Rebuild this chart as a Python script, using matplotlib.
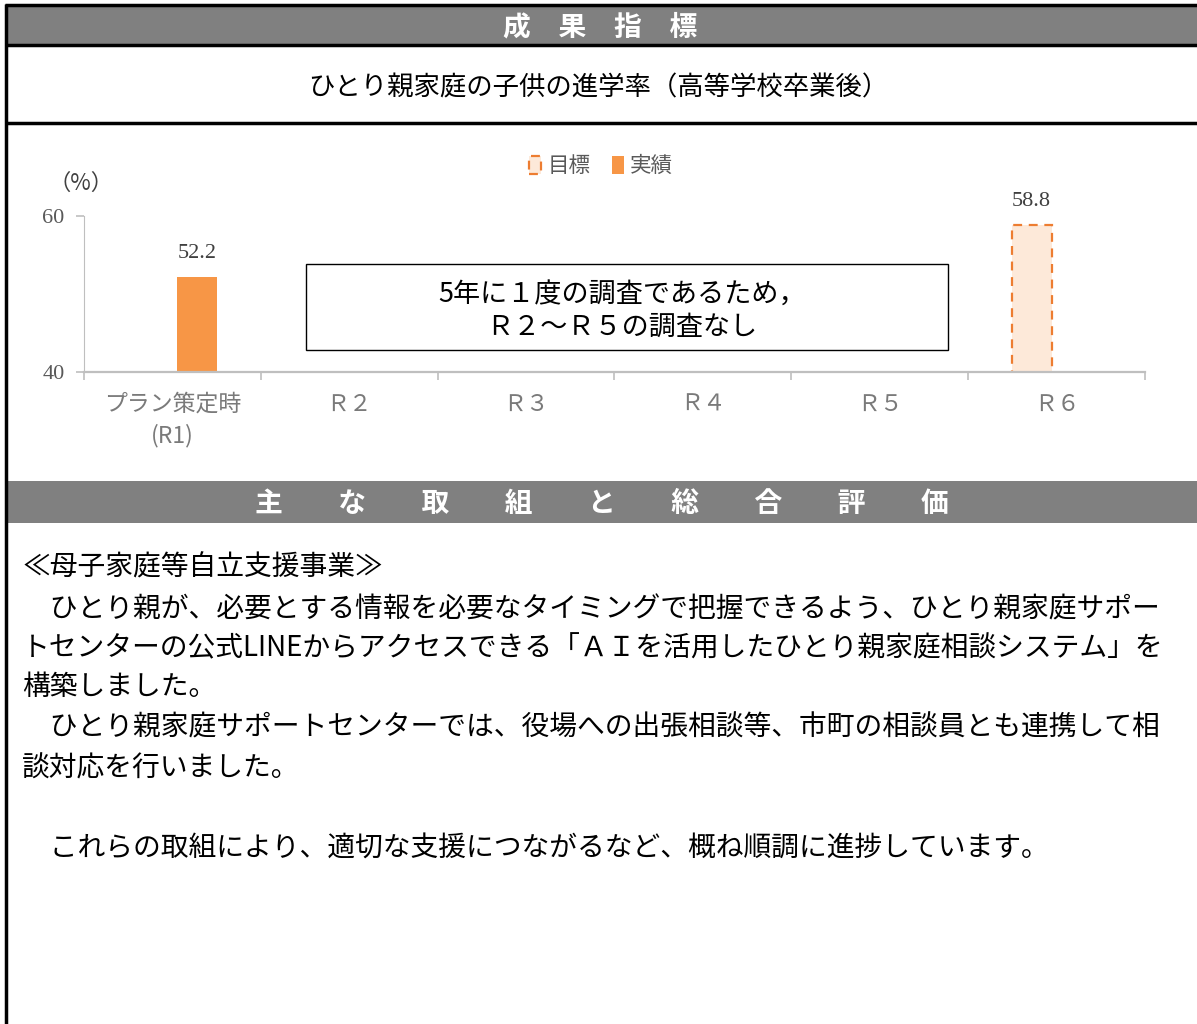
import numpy as np
import matplotlib
matplotlib.use("Agg")
import matplotlib.pyplot as plt
from matplotlib.patches import Rectangle

plt.rcParams['font.family'] = ['Noto Sans CJK JP', 'DejaVu Sans']

# data
categories = ['プラン策定時\n(R1)', 'Ｒ２', 'Ｒ３', 'Ｒ４', 'Ｒ５', 'Ｒ６']
target = [np.nan, np.nan, np.nan, np.nan, np.nan, 58.8]   # 目標
actual = [52.2, np.nan, np.nan, np.nan, np.nan, np.nan]   # 実績
series_names = ['目標', '実績']

header1 = '成　果　指　標'
header2 = '主　　な　　取　　組　　と　　総　　合　　評　　価'
chart_title = 'ひとり親家庭の子供の進学率（高等学校卒業後）'
note_lines = '5年に１度の調査であるため，\nＲ２～Ｒ５の調査なし'
body_lines = [
    '≪母子家庭等自立支援事業≫',
    '　ひとり親が、必要とする情報を必要なタイミングで把握できるよう、ひとり親家庭サポー',
    'トセンターの公式LINEからアクセスできる「ＡＩを活用したひとり親家庭相談システム」を',
    '構築しました。',
    '　ひとり親家庭サポートセンターでは、役場への出張相談等、市町の相談員とも連携して相',
    '談対応を行いました。',
    '',
    '　これらの取組により、適切な支援につながるなど、概ね順調に進捗しています。',
]

W, H = 1197, 1024
fig = plt.figure(figsize=(W / 100, H / 100), dpi=100)

# page layout in pixel coords
bg = fig.add_axes([0, 0, 1, 1])
bg.set_xlim(0, W)
bg.set_ylim(H, 0)
bg.axis('off')

gray = '#808080'
bg.add_patch(Rectangle((6, 5), W, 40, facecolor=gray, edgecolor='none'))
bg.add_patch(Rectangle((7, 481), W, 42, facecolor=gray, edgecolor='none'))
for y in (5, 45, 123):
    bg.plot([5, W], [y, y], color='black', lw=2.5, solid_capstyle='butt')
bg.plot([6, 6], [4, H], color='black', lw=2.5, solid_capstyle='butt')

bg.text(600, 27, header1, color='white', fontsize=20, fontweight='bold',
        ha='center', va='center')
bg.text(602, 504, header2, color='white', fontsize=20, fontweight='bold',
        ha='center', va='center')
bg.text(598, 88, chart_title, color='black', fontsize=19, ha='center', va='center')

bg.text(81, 183, '（%）', color='#404040', fontsize=16, ha='center', va='center')

# note box
bg.add_patch(Rectangle((306, 264), 642, 86, facecolor='white', edgecolor='black', lw=1))
bg.text(622, 311, note_lines, color='black', fontsize=19.5, ha='center', va='center',
        linespacing=1.3)

body_y = [568, 609, 648, 687, 728, 768, 808, 848]
for y, line in zip(body_y, body_lines):
    if line:
        bg.text(22, y, line, color='black', fontsize=20, ha='left', va='center')

# chart
ax = fig.add_axes([84 / W, (H - 372) / H, 1061 / W, 156 / H])
ax.set_facecolor('none')
x = np.arange(len(categories))
bw = 0.226
off = 0.141
b_t = ax.bar(x - off, target, bw, facecolor='#FDE9D9', edgecolor='#ED7D31',
             linestyle=(0, (4, 3)), lw=1.6, label=series_names[0])
b_a = ax.bar(x + off, actual, bw, color='#F79646', label=series_names[1])

for bars, vals in ((b_t, target), (b_a, actual)):
    ax.bar_label(bars, labels=['' if np.isnan(v) else f'{v:.1f}' for v in vals],
                 padding=10, fontsize=16, color='#404040', family='Liberation Serif')

ax.set_xlim(-0.5, len(categories) - 0.5)
ax.set_ylim(40, 60)
ax.set_yticks([40, 60])
ax.set_yticklabels(['40', '60'], family='Liberation Serif', fontsize=16, color='#595959')
ax.set_xticks(x)
ax.set_xticklabels(categories, fontsize=16.5, color='#7a7a7a', linespacing=1.45)
ax.set_xticks(np.arange(-0.5, len(categories)), minor=True)
ax.tick_params(axis='x', which='major', length=0, pad=15)
ax.tick_params(axis='x', which='minor', length=6, color='#BFBFBF', width=1.2)
ax.tick_params(axis='y', length=6, color='#BFBFBF', width=1.2, pad=8)
for s in ('top', 'right'):
    ax.spines[s].set_visible(False)
ax.spines['left'].set_color('#BFBFBF')
ax.spines['bottom'].set_color('#BFBFBF')
ax.spines['bottom'].set_linewidth(1.6)

fig.legend(handles=[b_t, b_a], labels=series_names, loc='center',
           bbox_to_anchor=(601 / W, 1 - 166 / H), ncol=2, frameon=False,
           fontsize=15.5, labelcolor='#595959', handlelength=0.55, handleheight=0.9,
           handletextpad=0.3, columnspacing=1.0)

fig.savefig('out.png', dpi=100)
